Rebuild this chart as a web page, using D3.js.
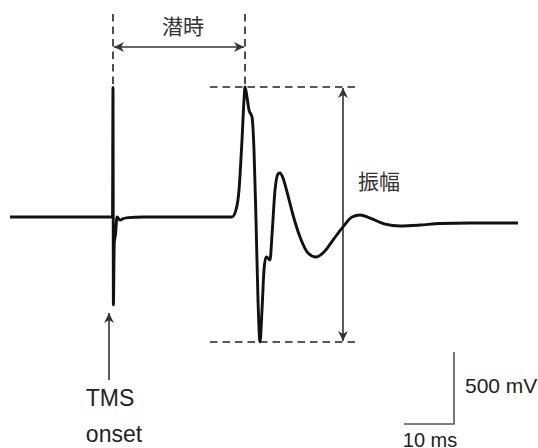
<!DOCTYPE html>
<html><head><meta charset="utf-8">
<script src="https://cdn.jsdelivr.net/npm/d3@7"></script>
<style>html,body{margin:0;padding:0;background:#fff;}svg{display:block;}</style>
</head><body>
<script>
// time (ms, TMS at 0) and voltage (mV) samples
const times = [-20.6,-0.4,-0.1,0,0.08,0.25,0.5,0.8,1.4,2.0,3.0,6,
  23.8,24.6,25.2,25.8,26.2,26.4,26.8,27.2,27.8,28.2,28.6,29.0,29.4,29.8,30.2,30.6,31.0,31.4,31.8,32.4,33.0,33.4,34.0,34.8,36,37.4,39,40.6,42.2,44,46,47.8,49.4,51.4,54.4,57.4,61.4,65.4,71.4,81];
const volts = [0,0,0,900,-610,-180,-120,0,-22,-12,-4,0,
  0,49,187,535,812,903,833,743,694,465,-21,-576,-868,-646,-368,-278,-285,-299,-125,187,299,306,271,174,14,-139,-250,-278,-243,-160,-69,0,14,-7,-49,-62,-56,-45,-42,-42];
const latencyLabel = "潜時";
const amplitudeLabel = "振幅";
const stimLabel = ["TMS","onset"];
const scaleLabels = ["500 mV","10 ms"];
const scaleValues = [500, 10]; // mV, ms

const W = 538, H = 448;
const svg = d3.select("body").append("svg").attr("width",W).attr("height",H);
const x = d3.scaleLinear().domain([-20,80]).range([13,513]);
const y = d3.scaleLinear().domain([-1000,1000]).range([361,73]);

const data = times.map((t,i)=>({t, v: volts[i]}));
const maxI = d3.maxIndex(volts), minI = d3.minIndex(volts.slice(12)) + 12;
const peakT = times[maxI], peakV = volts[maxI], troughV = volts[minI];

const defs = svg.append("defs");
defs.append("marker").attr("id","ah").attr("viewBox","0 0 10 10").attr("refX",10).attr("refY",5)
  .attr("markerWidth",10).attr("markerHeight",10).attr("markerUnits","userSpaceOnUse").attr("orient","auto-start-reverse")
  .append("path").attr("d","M0,0 L10,5 L0,10 L3,5 Z").attr("fill","#333");

const dash = {stroke:"#222","stroke-width":1.6,"stroke-dasharray":"7.5,5"};
function dline(x1,y1,x2,y2){const l=svg.append("line").attr("x1",x1).attr("y1",y1).attr("x2",x2).attr("y2",y2).attr("fill","none");for(const k in dash)l.attr(k,dash[k]);}
// latency dashes
dline(x(0),14,x(0),y(peakV)-3);
dline(x(peakT),14,x(peakT),y(peakV)-2);
// amplitude dashes
dline(210,y(peakV),356,y(peakV));
dline(210,y(troughV),360,y(troughV));

// latency arrow
svg.append("line").attr("x1",x(0)+1).attr("x2",x(peakT)-1).attr("y1",47).attr("y2",47)
  .attr("stroke","#333").attr("stroke-width",1.6).attr("marker-start","url(#ah)").attr("marker-end","url(#ah)");
// amplitude arrow
svg.append("line").attr("x1",x(46)).attr("x2",x(46)).attr("y1",y(peakV)+1).attr("y2",y(troughV)-1)
  .attr("stroke","#333").attr("stroke-width",1.6).attr("marker-start","url(#ah)").attr("marker-end","url(#ah)");
// TMS arrow
svg.append("line").attr("x1",109).attr("x2",109).attr("y1",380).attr("y2",313)
  .attr("stroke","#333").attr("stroke-width",1.6).attr("marker-end","url(#ah)");

// trace
svg.append("path").datum(data)
  .attr("d", d3.line().x(d=>x(d.t)).y(d=>y(d.v)).curve(d3.curveMonotoneX))
  .attr("fill","none").attr("stroke","#111").attr("stroke-width",2.9).attr("stroke-linejoin","round");

// scale bar
const sx = x(68.2), sy = 424;
const dy = y(0) - y(scaleValues[0]);
const dx = x(scaleValues[1]) - x(0);
svg.append("path").attr("d",`M${sx-dx},${sy} L${sx},${sy} L${sx},${sy-dy}`)
  .attr("fill","none").attr("stroke","#555").attr("stroke-width",1.6);

const font = "'Liberation Sans', Arial, sans-serif";
const cjk = "'Noto Sans CJK JP', 'Noto Sans CJK SC', sans-serif";
svg.append("text").attr("x",(x(0)+x(peakT))/2+4).attr("y",34).attr("text-anchor","middle")
  .attr("font-family",cjk).attr("font-size",21).attr("fill","#333").text(latencyLabel);
svg.append("text").attr("x",358).attr("y",189)
  .attr("font-family",cjk).attr("font-size",21).attr("fill","#333").text(amplitudeLabel);
svg.append("text").attr("x",110).attr("y",406).attr("text-anchor","middle")
  .attr("font-family",font).attr("font-size",23).attr("fill","#222").text(stimLabel[0]);
svg.append("text").attr("x",114).attr("y",442).attr("text-anchor","middle")
  .attr("font-family",font).attr("font-size",23).attr("fill","#222").text(stimLabel[1]);
svg.append("text").attr("x",465).attr("y",393)
  .attr("font-family",font).attr("font-size",21).attr("fill","#222").text(scaleLabels[0]);
svg.append("text").attr("x",430).attr("y",447).attr("text-anchor","middle")
  .attr("font-family",font).attr("font-size",20).attr("fill","#222").text(scaleLabels[1]);
</script>
</body></html>
